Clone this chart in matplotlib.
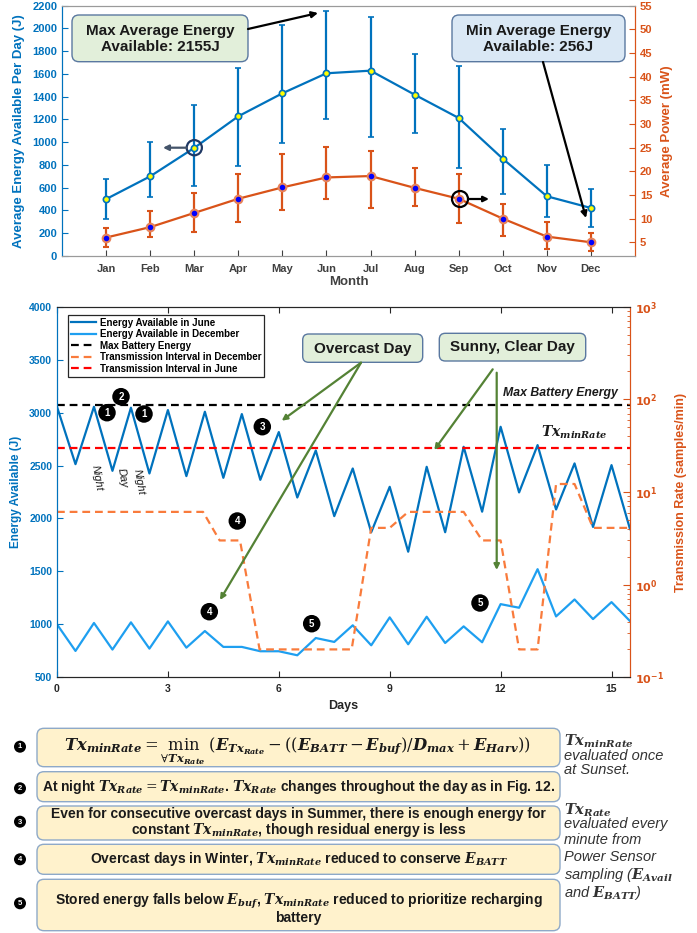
import numpy as np
import matplotlib
matplotlib.use('Agg')
import matplotlib.pyplot as plt
from matplotlib.patches import FancyBboxPatch, Circle, FancyArrowPatch
from matplotlib import font_manager as fm
from matplotlib.ticker import FixedLocator, LogLocator, NullFormatter, FuncFormatter
from matplotlib.mathtext import MathTextParser

# ---------------- data ----------------
months = ['Jan', 'Feb', 'Mar', 'Apr', 'May', 'Jun', 'Jul', 'Aug', 'Sep', 'Oct', 'Nov', 'Dec']
month_idx = [1, 2, 3, 4, 5, 6, 7, 8, 9, 10, 11, 12]
energy_mean = [500, 700, 950, 1228, 1430, 1606, 1629, 1418, 1213, 855, 525, 422]
energy_hi = [674, 999, 1324, 1655, 2030, 2155, 2098, 1776, 1667, 1116, 797, 586]
energy_lo = [322, 516, 612, 788, 996, 1204, 1043, 1078, 771, 542, 343, 256]
power_mean = [6.0, 8.2, 11.2, 14.2, 16.6, 18.7, 19.0, 16.5, 14.2, 10.0, 6.2, 5.0]
power_hi = [8.0, 11.6, 15.4, 19.4, 23.6, 25.1, 24.2, 20.6, 19.4, 13.0, 9.3, 6.9]
power_lo = [4.0, 6.1, 7.1, 9.3, 11.8, 14.1, 12.2, 12.7, 9.1, 6.3, 3.6, 3.1]

days = [0, 0.5, 1, 1.5, 2, 2.5, 3, 3.5, 4, 4.5, 5, 5.5, 6, 6.5, 7, 7.5,
        8, 8.5, 9, 9.5, 10, 10.5, 11, 11.5, 12, 12.5, 13, 13.5, 14, 14.5, 15, 15.5]
energy_june = [3055, 2513, 3055, 2450, 3046, 2425, 3024, 2400, 3008, 2384, 2986, 2365,
               2816, 2198, 2642, 2022, 2472, 1870, 2299, 1686, 2488, 1870, 2677, 2064,
               2866, 2246, 2693, 2085, 2520, 1920, 2504, 1900]
energy_dec = [1000, 749, 1013, 762, 1019, 771, 1028, 780, 937, 787, 787, 746,
              746, 708, 871, 834, 991, 802, 1066, 812, 1072, 824, 981, 831,
              1191, 1157, 1521, 1075, 1235, 1050, 1210, 1031]
tx_dec_days = [0, 3.95, 4.4, 4.95, 5.48, 7.97, 8.5, 9.0, 9.5, 11.0, 11.5, 12.0,
               12.5, 13.0, 13.5, 14.0, 14.5, 15.5]
tx_dec_rate = [6.1, 6.1, 3.0, 3.0, 0.2, 0.2, 4.1, 4.1, 6.1, 6.1, 3.0, 3.0,
               0.2, 0.2, 12.2, 12.2, 4.1, 4.1]
max_battery_energy = 3070
tx_june_rate = 30

BLUE = '#0072BD'
LBLUE = '#1E9FF0'
ORANGE = '#D95319'
TXORANGE = '#F97B3C'
GREEN = '#548235'

# ---------------- fonts ----------------
names = {f.name for f in fm.fontManager.ttflist}
SANS = 'Liberation Sans' if 'Liberation Sans' in names else 'DejaVu Sans'
NARROW = 'Liberation Sans Narrow' if 'Liberation Sans Narrow' in names else None
plt.rcParams['font.family'] = [SANS, 'DejaVu Sans']
plt.rcParams['mathtext.fontset'] = 'dejavusans'
try:
    MathTextParser('path').parse(r'$\mathbfit{T}$')
    BF = r'\mathbfit'
except Exception:
    BF = r'\mathbf'


def m(base, sub=None):
    if sub is None:
        return BF + '{' + base + '}'
    return BF + '{' + base + '}_{' + BF + '{' + sub + '}}'


W, H = 697, 933
fig = plt.figure(figsize=(W / 100, H / 100), dpi=100)
T = fig.dpi_scale_trans


def P(x, y):
    return (x / 100, (H - y) / 100)


def box(x0, y0, x1, y1, fc, ec, r=6, lw=1.0):
    p = FancyBboxPatch((x0 / 100, (H - y1) / 100), (x1 - x0) / 100, (y1 - y0) / 100,
                       boxstyle='round,pad=0,rounding_size=%f' % (r / 100),
                       fc=fc, ec=ec, lw=lw, transform=T, zorder=5)
    fig.add_artist(p)


def txt(x, y, s, **kw):
    kw.setdefault('zorder', 6)
    return fig.text(x / 100, (H - y) / 100, s, transform=T, **kw)


def arrow(x0, y0, x1, y1, color, lw=1.5, ms=10):
    a = FancyArrowPatch(P(x0, y0), P(x1, y1), arrowstyle='-|>', mutation_scale=ms,
                        lw=lw, color=color, transform=T, shrinkA=0, shrinkB=0, zorder=6)
    fig.add_artist(a)


def badge(x, y, n, d=17.5, fs=7):
    fig.add_artist(Circle(P(x, y), d / 200, transform=T, fc='black', ec='none', zorder=6))
    txt(x, y + 0.3, str(n), ha='center', va='center', color='white', fontsize=fs,
        fontweight='bold', zorder=7)


# ================= top chart =================
ax1 = fig.add_axes([62 / W, 1 - 256 / H, (635 - 62) / W, (256 - 5.7) / H])
ax1r = ax1.twinx()

em = np.array(energy_mean)
ax1.errorbar(month_idx, energy_mean, yerr=[em - np.array(energy_lo), np.array(energy_hi) - em],
             color=BLUE, lw=1.6, elinewidth=1.6, capsize=2.2, capthick=2.2,
             marker='o', ms=4.5, mfc='#FFFF00', mec=BLUE, mew=1.2, zorder=3)
pm = np.array(power_mean)
ax1r.errorbar(month_idx, power_mean, yerr=[pm - np.array(power_lo), np.array(power_hi) - pm],
              color=ORANGE, lw=1.6, elinewidth=1.6, capsize=2.2, capthick=2.2,
              marker='o', ms=5.5, mfc='#0000FF', mec='#E8835A', mew=1.5, zorder=3)

ax1.set_xlim(0, 13)
ax1.set_ylim(0, 2200)
ax1r.set_ylim(2.1, 55)
ax1.set_xticks(month_idx)
ax1.set_xticklabels(months)
ax1.set_yticks(np.arange(0, 2201, 200))
ax1r.set_yticks(np.arange(5, 56, 5))
for lab in ax1.get_xticklabels():
    lab.set_fontweight('bold')
for lab in ax1.get_yticklabels() + ax1r.get_yticklabels():
    lab.set_fontweight('bold')
ax1.tick_params(axis='x', direction='in', labelsize=8, colors='#404040', length=4, pad=6)
ax1.tick_params(axis='y', direction='in', labelsize=8, colors=BLUE, length=4)
ax1r.tick_params(axis='y', direction='in', labelsize=8, colors=ORANGE, length=4)
for a in (ax1, ax1r):
    a.spines['top'].set_color('#9a9a9a')
    a.spines['bottom'].set_color('#9a9a9a')
    a.spines['left'].set_color(BLUE)
    a.spines['right'].set_color(ORANGE)
ax1.set_ylabel('Average Energy Available Per Day (J)', color=BLUE, fontsize=9.5,
               fontweight='bold', labelpad=5)
ax1r.set_ylabel('Average Power (mW)', color=ORANGE, fontsize=9.5, fontweight='bold', labelpad=6)
ax1.set_xlabel('Month', fontsize=9.5, fontweight='bold', color='#404040', labelpad=1)

# annotations top
box(72, 15, 248, 61.7, '#E2EFDA', '#5A78A0', r=7)
txt(160, 39, 'Max Average Energy\nAvailable: 2155J', ha='center', va='center',
    fontsize=11, fontweight='bold', color='#1a1a1a', linespacing=1.25)
arrow(248, 29, 318, 13, 'black', lw=1.6, ms=9)
box(452, 15, 625, 61.7, '#DAE8F5', '#5A78A0', r=7)
txt(538.5, 39, 'Min Average Energy\nAvailable: 256J', ha='center', va='center',
    fontsize=11, fontweight='bold', color='#1a1a1a', linespacing=1.25)
arrow(543, 62, 586, 218, 'black', lw=1.6, ms=9)
fig.add_artist(Circle(P(194.3, 147.7), 7.6 / 100, transform=T, fill=False,
                      ec='#1F3864', lw=1.6, zorder=6))
arrow(186.5, 147.7, 163, 147.7, '#44546A', lw=1.6, ms=8)
fig.add_artist(Circle(P(460, 199), 8 / 100, transform=T, fill=False,
                      ec='black', lw=1.6, zorder=6))
arrow(468, 199, 489, 199, 'black', lw=1.6, ms=8)

# ================= middle chart =================
ax2 = fig.add_axes([57 / W, 1 - 677.3 / H, (630 - 57) / W, (677.3 - 306.7) / H])
ax2r = ax2.twinx()

h_june, = ax2.plot(days, energy_june, color=BLUE, lw=1.6, label='Energy Available in June')
h_dec, = ax2.plot(days, energy_dec, color=LBLUE, lw=1.6, label='Energy Available in December')
h_max = ax2.axhline(max_battery_energy, color='black', lw=1.6, dashes=(3.5, 2.2),
                    label='Max Battery Energy')
h_txd, = ax2r.plot(tx_dec_days, tx_dec_rate, color=TXORANGE, lw=1.6, dashes=(3.5, 2.2),
                   label='Transmission Interval in December')
h_txj = ax2r.axhline(tx_june_rate, color='#FF0000', lw=1.6, dashes=(3.5, 2.2),
                     label='Transmission Interval in June')

ax2.set_xlim(0, 15.5)
ax2.set_ylim(500, 4000)
ax2r.set_yscale('log')
ax2r.set_ylim(0.1, 1000)
ax2.set_xticks([0, 3, 6, 9, 12, 15])
ax2.set_yticks(np.arange(500, 4001, 500))
ax2r.yaxis.set_major_locator(FixedLocator([0.1, 1, 10, 100, 1000]))
ax2r.yaxis.set_minor_locator(LogLocator(base=10, subs=np.arange(2, 10)))
ax2r.yaxis.set_minor_formatter(NullFormatter())
ax2r.yaxis.set_major_formatter(FuncFormatter(
    lambda v, p: r'$\mathbf{10^{%d}}$' % int(round(np.log10(v)))))
for lab in ax2.get_xticklabels() + ax2.get_yticklabels():
    lab.set_fontweight('bold')
ax2.tick_params(axis='x', direction='in', labelsize=7.5, colors='#262626', length=4,
                top=True, pad=5)
ax2.tick_params(axis='y', direction='in', labelsize=7.5, colors=BLUE, length=4)
ax2r.tick_params(axis='y', which='major', direction='in', labelsize=8, colors=ORANGE, length=5)
ax2r.tick_params(axis='y', which='minor', direction='in', colors=ORANGE, length=2.5)
for a in (ax2, ax2r):
    a.spines['top'].set_color('#262626')
    a.spines['bottom'].set_color('#262626')
    a.spines['left'].set_color(BLUE)
    a.spines['right'].set_color(ORANGE)
ax2.set_ylabel('Energy Available (J)', color=BLUE, fontsize=8.5, fontweight='bold', labelpad=5)
ax2r.set_ylabel('Transmission Rate (samples/min)', color=ORANGE, fontsize=9,
                fontweight='bold', labelpad=8)
ax2.set_xlabel('Days', fontsize=9, fontweight='bold', color='#262626', labelpad=4)

leg = ax2r.legend(handles=[h_june, h_dec, h_max, h_txd, h_txj], loc='upper left',
                  bbox_to_anchor=(0.019, 0.978), borderaxespad=0, fancybox=False,
                  edgecolor='#262626', framealpha=1, handlelength=2.6, labelspacing=0.15,
                  borderpad=0.3, handletextpad=0.4, prop={'size': 7, 'weight': 'bold'})
leg.get_frame().set_linewidth(0.9)

# middle annotations
txt(560.5, 393, 'Max Battery Energy', ha='center', va='center', fontsize=8.8,
    fontweight='bold', style='italic', color='#1a1a1a')
txt(574, 432, '$' + m('Tx', 'minRate') + '$', ha='center', va='center', fontsize=10,
    math_fontfamily='dejavuserif', color='#1a1a1a')
for (x, y, s) in [(97, 478, 'Night'), (122, 478, 'Day'), (138.7, 482, 'Night')]:
    txt(x, y, s, ha='center', va='center', fontsize=8, style='italic', rotation=-80,
        color='#1a1a1a')
box(302.7, 334, 422.7, 362.3, '#E2EFDA', '#5A78A0', r=6)
txt(362.7, 348.5, 'Overcast Day', ha='center', va='center', fontsize=11,
    fontweight='bold', color='#1a1a1a')
box(439.3, 333.3, 585.7, 361, '#E2EFDA', '#5A78A0', r=6)
txt(512.5, 347.5, 'Sunny, Clear Day', ha='center', va='center', fontsize=11,
    fontweight='bold', color='#1a1a1a')
arrow(361, 362.7, 281.7, 420.7, GREEN, lw=1.6, ms=8)
arrow(361, 362.7, 220, 600, GREEN, lw=1.6, ms=8)
arrow(492.7, 369.3, 434.3, 450, GREEN, lw=1.6, ms=8)
arrow(496.7, 372.7, 496.7, 570, GREEN, lw=1.6, ms=8)

for (x, y, n) in [(107, 412.7, 1), (121, 396.7, 2), (144, 414, 1), (262.3, 426.7, 3),
                  (237.3, 521, 4), (209.3, 611.7, 4), (311.7, 623.7, 5), (480, 603, 5)]:
    badge(x, y, n)

# ================= bottom notes =================
BOXFC = '#FFF2CC'
BOXEC = '#8EA9C8'
if NARROW:
    nfam, nsize, rsize = [NARROW, 'DejaVu Sans'], 11.0, 12.0
else:
    nfam, nsize, rsize = [SANS, 'DejaVu Sans'], 10.0, 10.5
rows = [(728.3, 766.7), (771.7, 801.7), (806, 840), (844.3, 874.3), (879.3, 930.7)]
for (y0, y1) in rows:
    box(37, y0, 560, y1, BOXFC, BOXEC, r=7)
for (y, n) in [(746.7, 1), (788.3, 2), (821.7, 3), (859.3, 4), (903.3, 5)]:
    badge(20, y, n, d=12, fs=5.5)

formula = ('$' + m('Tx', 'minRate') + r' = \min_{\forall ' + m('Tx', 'Rate') + r'}\,('
           + BF + '{E}_{' + m('Tx', 'Rate') + '} - (('
           + m('E', 'BATT') + ' - ' + m('E', 'buf') + ')/' + m('D', 'max') + ' + '
           + m('E', 'Harv') + '))$')
txt(297, 751, formula, ha='center', va='baseline', fontsize=11.8,
    math_fontfamily='dejavuserif', color='#1a1a1a')
txt(298.5, 787, 'At night $' + m('Tx', 'Rate') + ' = ' + m('Tx', 'minRate') + '$. $'
    + m('Tx', 'Rate') + '$ changes throughout the day as in Fig. 12.',
    ha='center', va='center', fontsize=nsize, fontweight='bold', family=nfam,
    math_fontfamily='dejavuserif', color='#1a1a1a')
txt(298.5, 823, 'Even for consecutive overcast days in Summer, there is enough energy for\n'
    'constant $' + m('Tx', 'minRate') + '$, though residual energy is less',
    ha='center', va='center', fontsize=nsize, fontweight='bold', family=nfam,
    math_fontfamily='dejavuserif', color='#1a1a1a', linespacing=1.0)
txt(298.5, 859.5, 'Overcast days in Winter, $' + m('Tx', 'minRate')
    + '$ reduced to conserve $' + m('E', 'BATT') + '$',
    ha='center', va='center', fontsize=nsize, fontweight='bold', family=nfam,
    math_fontfamily='dejavuserif', color='#1a1a1a')
txt(298.5, 908, 'Stored energy falls below $' + m('E', 'buf') + '$, $' + m('Tx', 'minRate')
    + '$ reduced to prioritize recharging\nbattery',
    ha='center', va='center', fontsize=nsize, fontweight='bold', family=nfam,
    math_fontfamily='dejavuserif', color='#1a1a1a', linespacing=1.0)

notes = [(741.5, '$' + m('Tx', 'minRate') + '$'), (756, 'evaluated once'), (770.5, 'at Sunset.'),
         (810, '$' + m('Tx', 'Rate') + '$'), (824, 'evaluated every'), (840, 'minute from'),
         (857, 'Power Sensor'), (874.5, 'sampling ($' + m('E', 'Avail') + '$'),
         (892.5, 'and $' + m('E', 'BATT') + '$)')]
for (y, s) in notes:
    txt(564, y, s, ha='left', va='center', fontsize=rsize, style='italic', family=nfam,
        math_fontfamily='dejavuserif', color='#333333')

fig.savefig('out.png', dpi=100)
